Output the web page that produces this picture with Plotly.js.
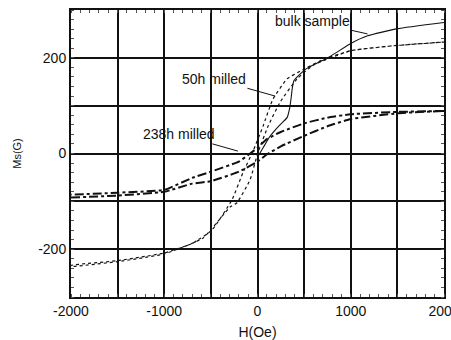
<!DOCTYPE html>
<html><head><meta charset="utf-8">
<script src="https://cdn.plot.ly/plotly-3.0.1.min.js"></script>
<style>html,body{margin:0;padding:0;background:#fff}#plot{width:451px;height:340px}</style>
</head><body><div id="plot"></div>
<script>
// 50h milled (dotted loop)
const h50Desc = [2000,1500,1000,700,456,317,166,59,-48,-156,-274,-488,-700,-1000,-1500,-2000];
const m50Desc = [233,226,215,196,172,156,114,57,5,-40,-97,-160,-188,-208,-224,-234];
const h50Asc  = [-2000,-1500,-1000,-585,-295,-220,-80,5,113,241,424,600,1000,1500,2000];
const m50Asc  = [-236,-226,-210,-177,-112,-103,-55,2,57,107,156,185,215,226,233];
// 238h milled (dash-dot loop)
const h238Desc = [2000,1500,1000,750,500,250,100,0,-100,-200,-500,-700,-1000,-1500,-2000];
const m238Desc = [89,87,82,75,63,45,30,12,-3,-17,-38,-51,-76,-82,-86];
const h238Asc  = [-2000,-1500,-1000,-700,-500,-200,0,100,250,500,750,1000,1500,2000];
const m238Asc  = [-92,-88,-80,-63,-58,-38,-17,-2,15,37,57,72,84,89];
// bulk sample
const hBulk = [0,60,134,230,317,345,360,372,390,456,530,780,1000,1180,1500,2000];
const mBulk = [-8,12,36,58,75,95,115,135,152,166,178,203,230,246,261,274];
// axis ticks
const xTickVals = [-2000,-1500,-1000,-500,0,500,1000,1500,2000];
const xTickText = ['-2000','','-1000','','0','','1000','','2000'];
const yTickVals = [-300,-200,-100,0,100,200,300];
const yTickText = ['','-200','','0','','200',''];

const blk = '#111';
const sp = {shape:'spline', smoothing:0.4};
const traces = [
  {x: h50Desc.concat(h50Asc), y: m50Desc.concat(m50Asc), mode:'lines', line:Object.assign({color:blk, width:1.2, dash:'dot'}, sp)},
  {x: h238Desc, y: m238Desc, mode:'lines', line:Object.assign({color:blk, width:2, dash:'dashdot'}, sp)},
  {x: h238Asc, y: m238Asc, mode:'lines', line:Object.assign({color:blk, width:2, dash:'dashdot'}, sp)},
  {x: hBulk, y: mBulk, mode:'lines', line:Object.assign({color:blk, width:1.1}, sp)}
];
const fnt = {family:'Liberation Sans, Arial, sans-serif', size:14, color:'#111'};
const layout = {
  width:451, height:340, showlegend:false,
  margin:{l:71, r:7, t:10, b:43},
  paper_bgcolor:'#fff', plot_bgcolor:'#fff',
  font: fnt,
  xaxis:{range:[-2000,2000], tickvals:xTickVals, ticktext:xTickText, showgrid:true, gridcolor:blk, gridwidth:2,
    zeroline:false, showline:true, linecolor:blk, linewidth:2, mirror:'allticks', ticks:'', ticklabeloverflow:'allow',
    minor:{dtick:100, ticks:'inside', ticklen:3, tickcolor:'#555', showgrid:false},
    title:{text:'H(Oe)', font:fnt, standoff:9}, tickfont:fnt},
  yaxis:{range:[-300,300], tickvals:yTickVals, ticktext:yTickText, showgrid:true, gridcolor:blk, gridwidth:2,
    zeroline:false, showline:true, linecolor:blk, linewidth:2, mirror:'allticks', ticks:'',
    minor:{dtick:20, ticks:'inside', ticklen:3, tickcolor:'#555', showgrid:false},
    title:{text:'Ms(G)', font:{family:fnt.family, size:11, color:'#111'}, standoff:14}, tickfont:fnt},
  annotations:[
    {x:-210, y:5, ax:-842, ay:40, axref:'x', ayref:'y', text:'238h milled', showarrow:true, arrowhead:0, arrowwidth:1, arrowcolor:blk, font:fnt},
    {x:190, y:120, ax:-467, ay:156, axref:'x', ayref:'y', text:'50h milled', showarrow:true, arrowhead:0, arrowwidth:1, arrowcolor:blk, font:fnt},
    {x:1180, y:250, ax:585, ay:276, axref:'x', ayref:'y', text:'bulk sample', showarrow:true, arrowhead:0, arrowwidth:1, arrowcolor:blk, font:fnt}
  ]
};
Plotly.newPlot('plot', traces, layout, {displayModeBar:false, staticPlot:true});
</script></body></html>
